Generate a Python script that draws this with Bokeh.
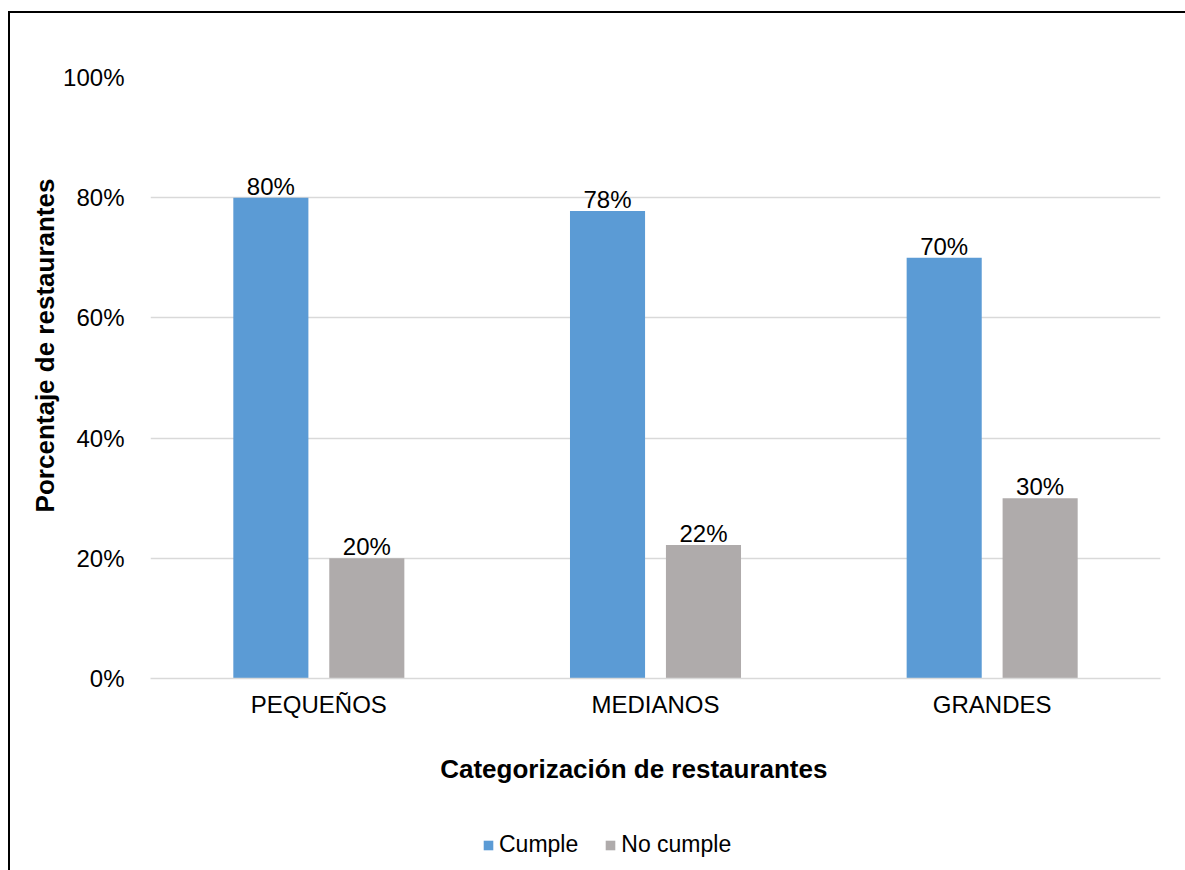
from bokeh.plotting import figure
from bokeh.layouts import column
from bokeh.models import ColumnDataSource, FactorRange, Range1d, NumeralTickFormatter, Legend, LegendItem, LabelSet, FixedTicker
from bokeh.core.properties import value
from bokeh.transform import dodge
from bokeh.embed import file_html
from bokeh.resources import INLINE

categories = ["PEQUEÑOS", "MEDIANOS", "GRANDES"]
cumple = [0.80, 0.778, 0.70]
no_cumple = [0.20, 0.222, 0.30]
cumple_labels = ["80%", "78%", "70%"]
no_cumple_labels = ["20%", "22%", "30%"]
series_names = ["Cumple", "No cumple"]
y_ticks = [0, 0.2, 0.4, 0.6, 0.8, 1.0]
y_title = "Porcentaje de restaurantes"
x_title = "Categorización de restaurantes"

FONT = "Liberation Sans"
BLUE = "#5B9BD5"
GRAY = "#AFABAB"
NB = "\u00a0"

src = ColumnDataSource(dict(cat=categories, cumple=cumple, no=no_cumple,
                            lc=cumple_labels, ln=no_cumple_labels))

p = figure(x_range=FactorRange(*categories, range_padding=0), y_range=Range1d(0, 1.0),
           width=1177, height=787, output_backend="svg", toolbar_location=None,
           min_border_left=140, min_border_right=27, min_border_top=64, min_border_bottom=122)
p.outline_line_color = None

off = 0.1425
w = 0.223
p.vbar(x=dodge("cat", -off, range=p.x_range), top="cumple", width=w, source=src,
       fill_color=BLUE, line_color=None)
p.vbar(x=dodge("cat", off, range=p.x_range), top="no", width=w, source=src,
       fill_color=GRAY, line_color=None)

p.add_layout(LabelSet(x=dodge("cat", -off, range=p.x_range), y="cumple", text="lc", source=src,
                      text_align="center", text_baseline="bottom", y_offset=-2,
                      text_font=value(FONT), text_font_size="24px", text_color="black"))
p.add_layout(LabelSet(x=dodge("cat", off, range=p.x_range), y="no", text="ln", source=src,
                      text_align="center", text_baseline="bottom", y_offset=-2,
                      text_font=value(FONT), text_font_size="24px", text_color="black"))

# grid
p.xgrid.grid_line_color = None
p.ygrid.grid_line_color = "#d9d9d9"
p.ygrid.grid_line_width = 1.5

# y axis
p.yaxis.ticker = FixedTicker(ticks=y_ticks)
p.yaxis.formatter = NumeralTickFormatter(format="0%")
p.yaxis.axis_line_color = None
p.yaxis.major_tick_line_color = None
p.yaxis.minor_tick_line_color = None
p.yaxis.major_label_text_font = FONT
p.yaxis.major_label_text_font_size = "24px"
p.yaxis.major_label_text_color = "black"
p.yaxis.major_label_standoff = 20
p.yaxis.axis_label = NB * 9 + y_title
p.yaxis.axis_label_text_font = FONT
p.yaxis.axis_label_text_font_size = "26px"
p.yaxis.axis_label_text_font_style = "bold"
p.yaxis.axis_label_text_color = "black"
p.yaxis.axis_label_standoff = 0

# x axis
p.xaxis.axis_line_color = "#d9d9d9"
p.xaxis.axis_line_width = 1.5
p.xaxis.major_tick_line_color = None
p.xaxis.minor_tick_line_color = None
p.xaxis.major_label_text_font = FONT
p.xaxis.major_label_text_font_size = "24px"
p.xaxis.major_label_text_color = "black"
p.xaxis.major_label_standoff = 6
p.xaxis.axis_label = x_title + NB * 6
p.xaxis.axis_label_text_font = FONT
p.xaxis.axis_label_text_font_size = "26px"
p.xaxis.axis_label_text_font_style = "bold"
p.xaxis.axis_label_text_color = "black"
p.xaxis.axis_label_standoff = 33

# legend strip
pl = figure(x_range=Range1d(0, 1), y_range=Range1d(0, 1), width=1177, height=72,
            output_backend="svg", toolbar_location=None,
            min_border_left=0, min_border_right=0, min_border_top=0, min_border_bottom=0)
pl.axis.visible = False
pl.grid.grid_line_color = None
pl.outline_line_color = None
lr1 = pl.vbar(x=[0.5], top=[0.0], bottom=[0.0], width=0.0, fill_color=BLUE, line_color=None)
lr2 = pl.vbar(x=[0.5], top=[0.0], bottom=[0.0], width=0.0, fill_color=GRAY, line_color=None)
legend = Legend(items=[LegendItem(label=series_names[0], renderers=[lr1]),
                       LegendItem(label=series_names[1], renderers=[lr2])],
                orientation="horizontal", location=(332, 14),
                label_text_font=FONT, label_text_font_size="23px", label_text_color="black",
                glyph_width=12, glyph_height=12, label_standoff=5, spacing=26,
                border_line_color=None, background_fill_alpha=0, padding=0, margin=0)
pl.add_layout(legend, "center")

layout = column(p, pl, spacing=0)
layout.margin = (11, 0, 0, 8)
layout.styles = {"border-top": "2px solid black", "border-left": "2px solid black"}

open("out.html", "w").write(file_html(layout, INLINE))
